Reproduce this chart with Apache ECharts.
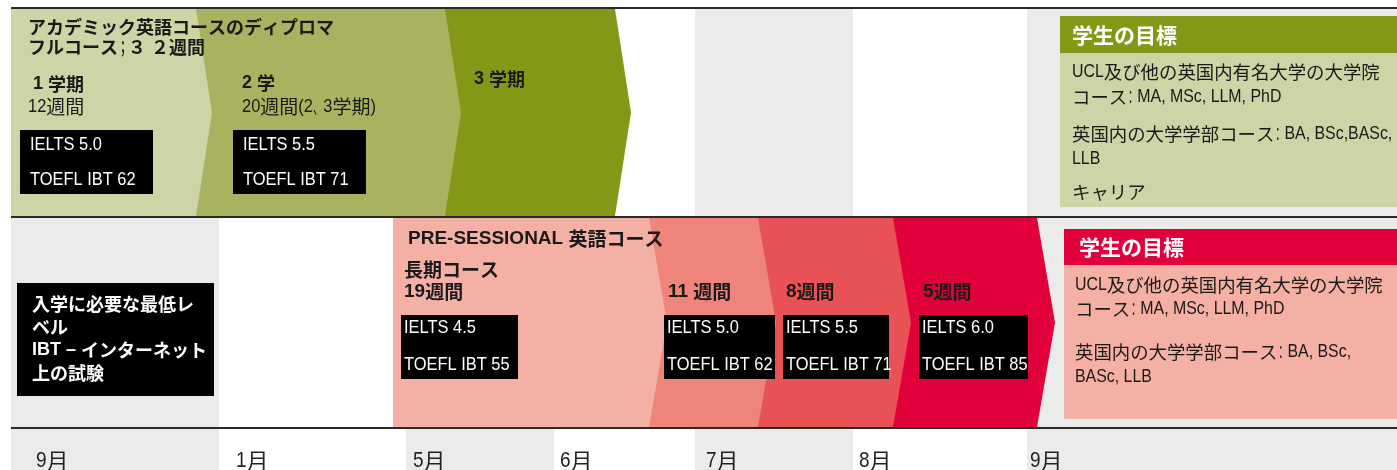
<!DOCTYPE html>
<html><head><meta charset="utf-8">
<script src="https://cdn.jsdelivr.net/npm/echarts@6/dist/echarts.min.js"></script>
<style>html,body{margin:0;padding:0;background:#fff}#c{width:1397px;height:470px}</style>
</head><body><div id="c"></div>
<script>
// ================= DATA =================
// month columns of the timeline (position on the timeline axis where each month column starts)
const monthLabels = ['9月', '1月', '5月', '6月', '7月', '8月', '9月'];
const monthStarts = [11, 219, 406, 554, 695, 853, 1027];
const timelineEnd = 1397;

// Academic English diploma (top band)
const diplomaTitle = ['アカデミック英語コースのディプロマ', 'フルコース；３ ２週間'];
const diplomaTerms = ['1 学期', '2 学', '3 学期'];
const diplomaWeeks = ['12週間', '20週間(2、3学期)'];
const diplomaStart = [11, 196, 445];
const diplomaEnd = [196, 445, 615];
const diplomaIelts = ['IELTS 5.0', 'IELTS 5.5'];
const diplomaToefl = ['TOEFL IBT 62', 'TOEFL IBT 71'];

// Pre-sessional English (bottom band)
const preTitle = 'PRE-SESSIONAL 英語コース';
const preLongName = '長期コース';
const preWeeks = ['19週間', '11 週間', '8週間', '5週間'];
const preStart = [393, 649, 758, 893];
const preEnd = [649, 758, 893, 1037];
const preIelts = ['IELTS 4.5', 'IELTS 5.0', 'IELTS 5.5', 'IELTS 6.0'];
const preToefl = ['TOEFL IBT 55', 'TOEFL IBT 62', 'TOEFL IBT 71', 'TOEFL IBT 85'];

// goals / notes
const goalTitle = '学生の目標';
const goalTopLines = ['UCL及び他の英国内有名大学の大学院', 'コース：MA, MSc, LLM, PhD', '英国内の大学学部コース：BA, BSc,BASc,', 'LLB', 'キャリア'];
const goalBottomLines = ['UCL及び他の英国内有名大学の大学院', 'コース：MA, MSc, LLM, PhD', '英国内の大学学部コース：BA, BSc,', 'BASc, LLB'];
const minLevelLines = ['入学に必要な最低レ', 'ベル', 'IBT – インターネット', '上の試験'];

// ================= LAYOUT / STYLE =================
const LAT_FONT = '"Liberation Sans", Arial, sans-serif';
const CJK_FONT = '"Noto Sans CJK JP", sans-serif';
const LATIN_SCALE = 0.865;   // condensed look for regular latin text
const PUNCT_SCALE = 0.55;    // narrow full-width punctuation
const PUNCT = '：；、';
const PUNCT_SHIFT = {'：': -0.085, '；': 0, '、': 0};
const TXT = '#1a1a1a';
const GRAY = '#EBECEA';
const L = {
  top: [9, 216], bot: [218, 427], rules: [8, 217, 428], ruleX0: 11,
  monthY: 461, monthLabelX: [36, 236, 413, 560, 706, 859, 1030],
  dipColors: ['#CDD4A6', '#A9B35F', '#849716'], dipDepth: 16,
  preColors: ['#F5B0A6', '#EF847A', '#E85255', '#E1003A'], preDepth: 18,
  titleX: 28, titleY: [27, 47],
  termPos: [[33, 84], [242, 83], [474, 79]], weekPos: [[28, 107], [242, 107]],
  dipBoxes: [[20, 130, 153, 194], [233, 130, 366, 194]], dipBoxText: [10, 145, 180],
  preTitlePos: [408, 239], preLongPos: [404, 270],
  preWeekPos: [[404, 292], [668, 292], [786, 292], [923, 292]],
  preBoxes: [[401, 315, 518, 379], [664, 315, 775, 379], [783, 315, 889, 379], [919, 315, 1028, 379]], preBoxText: [3, 328, 365],
  minBox: [17, 283, 214, 396], minX: 32, minY: [304, 327, 350, 373],
  goalTop: {head: [1060, 16, 1397, 53], body: [1060, 53, 1397, 207], color: '#849716', bodyColor: '#CDD4A6', hx: 1072, hy: 35, tx: 1072, ty: [72, 97, 134, 159, 192]},
  goalBot: {head: [1064, 229, 1397, 265], body: [1064, 265, 1397, 419], color: '#E1003A', bodyColor: '#F5B0A6', hx: 1079, hy: 247, tx: 1075, ty: [285, 309, 352, 377]}
};

const measureCtx = document.createElement('canvas').getContext('2d');
function kindOf(ch) {
  if (PUNCT.indexOf(ch) >= 0) return 'punct';
  return ch.charCodeAt(0) >= 0x2E80 ? 'cjk' : 'lat';
}
function splitRuns(s) {
  const out = [];
  for (const ch of s) {
    const k = kindOf(ch);
    if (out.length && out[out.length - 1].kind === k && k !== 'punct') out[out.length - 1].text += ch;
    else out.push({kind: k, text: ch});
  }
  return out;
}
function rectEl(api, r, fill) {
  const a = api.coord([r[0], r[1]]), b = api.coord([r[2], r[3]]);
  return {type: 'rect', shape: {x: a[0], y: a[1], width: b[0] - a[0], height: b[1] - a[1]}, style: {fill: fill}};
}
function textEl(api, x, y, s, size, bold, fill) {
  const p = api.coord([x, y]);
  let cx = p[0];
  const children = [];
  splitRuns(s).forEach(r => {
    const fam = r.kind === 'lat' ? LAT_FONT : CJK_FONT;
    const sc = r.kind === 'lat' ? (bold ? 1 : LATIN_SCALE) : (r.kind === 'punct' ? PUNCT_SCALE : 1);
    const weight = bold ? 'bold' : 'normal';
    measureCtx.font = weight + ' ' + size + 'px ' + fam;
    const w = (r.kind === 'punct' ? size : measureCtx.measureText(r.text).width) * sc;
    const centered = r.kind === 'punct';
    const px = centered ? cx + w / 2 + (PUNCT_SHIFT[r.text] || 0) * size : cx;
    children.push({type: 'text', x: px, y: p[1], scaleX: sc,
      style: {text: r.text, fill: fill || TXT, fontSize: size, fontWeight: weight, fontFamily: fam,
        verticalAlign: 'middle', align: centered ? 'center' : 'left'}});
    cx += w;
  });
  return {type: 'group', children: children};
}
function bandEl(api, x0, x1, yr, depth, fill) {
  const ym = (yr[0] + yr[1]) / 2;
  const pts = [[x0, yr[0]], [x1, yr[0]], [x1 + depth, ym], [x1, yr[1]], [x0, yr[1]]].map(p => api.coord(p));
  return {type: 'polygon', shape: {points: pts}, style: {fill: fill}};
}
function scoreBox(api, r, off, a, b) {
  return {type: 'group', children: [
    rectEl(api, r, '#000'),
    textEl(api, r[0] + off[0], off[1], a, 19, false, '#fff'),
    textEl(api, r[0] + off[0], off[2], b, 19, false, '#fff')
  ]};
}
function goalEl(api, g, lines) {
  const ch = [rectEl(api, g.body, g.bodyColor), rectEl(api, g.head, g.color),
    textEl(api, g.hx, g.hy, goalTitle, 21, true, '#fff')];
  lines.forEach((s, i) => ch.push(textEl(api, g.tx, g.ty[i], s, 18.4, false)));
  return {type: 'group', children: ch};
}

const base = {type: 'custom', coordinateSystem: 'cartesian2d', encode: {x: 0, y: 1}, silent: true, animation: false, clip: false};

const option = {
  animation: false,
  backgroundColor: '#ffffff',
  grid: {left: 0, right: 0, top: 0, bottom: 0},
  xAxis: {type: 'value', min: 0, max: 1397, show: false},
  yAxis: {type: 'value', min: 0, max: 470, inverse: true, show: false},
  series: [
    // month columns (alternating grey / white)
    Object.assign({}, base, {
      z: 1,
      data: monthStarts.map((s, i) => [s, L.top[0], i]),
      renderItem: (p, api) => {
        const i = api.value(2);
        const x0 = monthStarts[i];
        const x1 = i + 1 < monthStarts.length ? monthStarts[i + 1] : timelineEnd;
        return rectEl(api, [x0, L.top[0], x1, 470], i % 2 === 0 ? GRAY : '#ffffff');
      }
    }),
    // month labels
    Object.assign({}, base, {
      z: 2,
      data: monthLabels.map((m, i) => [monthStarts[i], L.monthY, i]),
      renderItem: (p, api) => {
        const i = api.value(2);
        return textEl(api, L.monthLabelX[i], L.monthY, monthLabels[i], 22, false, '#222');
      }
    }),
    // diploma bands (drawn right to left so each chevron tip overlaps the next band)
    Object.assign({}, base, {
      z: 3,
      data: diplomaStart.map((s, i) => [s, L.top[0], i]).reverse(),
      renderItem: (p, api) => {
        const i = api.value(2);
        return bandEl(api, diplomaStart[i] - (i ? 2 : 0), diplomaEnd[i], L.top, L.dipDepth, L.dipColors[i]);
      }
    }),
    // pre-sessional bands
    Object.assign({}, base, {
      z: 3,
      data: preStart.map((s, i) => [s, L.bot[0], i]).reverse(),
      renderItem: (p, api) => {
        const i = api.value(2);
        return bandEl(api, preStart[i] - (i ? 2 : 0), preEnd[i], L.bot, L.preDepth, L.preColors[i]);
      }
    }),
    // horizontal rules
    Object.assign({}, base, {
      z: 5,
      data: L.rules.map(y => [L.ruleX0, y]),
      renderItem: (p, api) => {
        const a = api.coord([L.ruleX0, api.value(1)]), b = api.coord([timelineEnd, api.value(1)]);
        return {type: 'line', shape: {x1: a[0], y1: a[1], x2: b[0], y2: b[1]}, style: {stroke: '#2a2a2a', lineWidth: 2}};
      }
    }),
    // diploma annotations
    Object.assign({}, base, {
      z: 6,
      data: [[0, 0]],
      renderItem: (p, api) => {
        const ch = [];
        diplomaTitle.forEach((s, i) => ch.push(textEl(api, L.titleX, L.titleY[i], s, 18, true)));
        diplomaTerms.forEach((s, i) => ch.push(textEl(api, L.termPos[i][0], L.termPos[i][1], s, 18, true)));
        diplomaWeeks.forEach((s, i) => ch.push(textEl(api, L.weekPos[i][0], L.weekPos[i][1], s, 19, false)));
        diplomaIelts.forEach((s, i) => ch.push(scoreBox(api, L.dipBoxes[i], L.dipBoxText, s, diplomaToefl[i])));
        ch.push(goalEl(api, L.goalTop, goalTopLines));
        return {type: 'group', children: ch};
      }
    }),
    // pre-sessional annotations
    Object.assign({}, base, {
      z: 6,
      data: [[0, 0]],
      renderItem: (p, api) => {
        const ch = [];
        ch.push(textEl(api, L.preTitlePos[0], L.preTitlePos[1], preTitle, 19, true));
        ch.push(textEl(api, L.preLongPos[0], L.preLongPos[1], preLongName, 19, true));
        preWeeks.forEach((s, i) => ch.push(textEl(api, L.preWeekPos[i][0], L.preWeekPos[i][1], s, 19, true)));
        preIelts.forEach((s, i) => ch.push(scoreBox(api, L.preBoxes[i], L.preBoxText, s, preToefl[i])));
        ch.push(rectEl(api, L.minBox, '#000'));
        minLevelLines.forEach((s, i) => ch.push(textEl(api, L.minX, L.minY[i], s, 18, true, '#fff')));
        ch.push(goalEl(api, L.goalBot, goalBottomLines));
        return {type: 'group', children: ch};
      }
    })
  ]
};

const chart = echarts.init(document.getElementById('c'), null, {renderer: 'canvas'});
chart.setOption(option);
</script>
</body></html>
